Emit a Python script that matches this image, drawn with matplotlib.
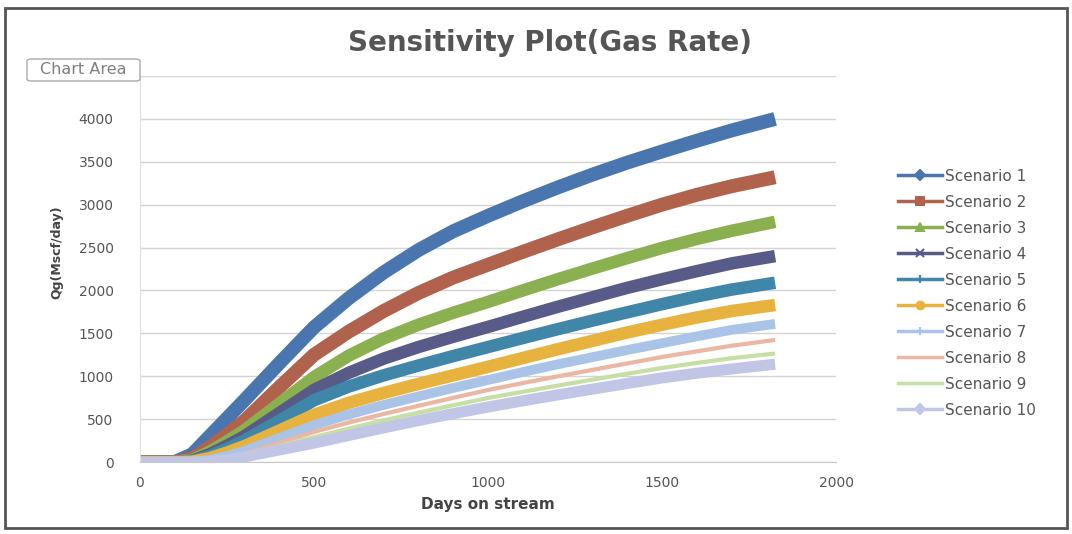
import matplotlib.pyplot as plt
from matplotlib.lines import Line2D
from matplotlib.patches import Rectangle, FancyBboxPatch

# days on stream and gas rate (Mscf/day) for each scenario
days = [0, 100, 150, 200, 250, 300, 400, 500, 600, 700, 800, 900, 1000,
        1100, 1200, 1300, 1400, 1500, 1600, 1700, 1825]

scenario_1 = [0, 0, 90, 300, 510, 720, 1150, 1570, 1910, 2210, 2470, 2690, 2870,
              3040, 3200, 3350, 3490, 3620, 3745, 3865, 4000]
scenario_2 = [0, 0, 40, 170, 320, 480, 870, 1250, 1520, 1760, 1970, 2150, 2300,
              2450, 2595, 2735, 2870, 3000, 3115, 3215, 3320]
scenario_3 = [0, 0, 25, 120, 240, 370, 680, 990, 1240, 1440, 1600, 1740, 1866,
              2000, 2130, 2255, 2377, 2495, 2600, 2695, 2800]
scenario_4 = [0, 0, 15, 90, 190, 300, 570, 840, 1040, 1205, 1340, 1460, 1575,
              1693, 1809, 1920, 2030, 2130, 2225, 2315, 2400]
scenario_5 = [0, 0, 10, 70, 155, 250, 480, 720, 880, 1010, 1125, 1235, 1340,
              1445, 1548, 1648, 1745, 1840, 1930, 2010, 2090]
scenario_6 = [0, 0, 5, 45, 110, 185, 365, 550, 690, 805, 910, 1010, 1110,
              1212, 1314, 1412, 1510, 1600, 1685, 1760, 1830]
scenario_7 = [0, 0, 0, 25, 70, 130, 280, 430, 555, 665, 765, 863, 956,
              1049, 1139, 1222, 1305, 1385, 1465, 1540, 1610]
scenario_8 = [0, 0, 0, 15, 50, 100, 225, 350, 460, 560, 655, 748, 840,
              920, 998, 1074, 1149, 1224, 1290, 1355, 1423]
scenario_9 = [0, 0, 0, 10, 40, 85, 190, 290, 390, 485, 575, 662, 746,
              819, 890, 960, 1029, 1096, 1155, 1210, 1265]
scenario_10 = [0, 0, 0, 5, 25, 60, 140, 220, 310, 398, 483, 564, 641,
               713, 782, 849, 915, 980, 1035, 1085, 1140]

series = [scenario_1, scenario_2, scenario_3, scenario_4, scenario_5,
          scenario_6, scenario_7, scenario_8, scenario_9, scenario_10]
labels = ['Scenario %d' % (i + 1) for i in range(10)]

x_ticks = [0, 500, 1000, 1500, 2000]
y_ticks = [0, 500, 1000, 1500, 2000, 2500, 3000, 3500, 4000, 4500]
y_tick_labels = ['0', '500', '1000', '1500', '2000', '2500', '3000', '3500', '4000', '']

colors = ['#4a76b0', '#b0624c', '#8bb050', '#585b87', '#3f86a8',
          '#e8b23e', '#a9c4e6', '#ebb6a2', '#c6dfa4', '#c2c6e6']
widths = [10, 10, 9, 9, 9, 9, 7, 3, 3, 8]
markers = ['D', 's', '^', 'x', '+', 'o', '+', '', '', 'D']

fig = plt.figure(figsize=(10.72, 5.34), dpi=100)
ax = fig.add_axes([140 / 1072, 72 / 534, 696 / 1072, 386 / 534])

for vals, lab, c, w in zip(series, labels, colors, widths):
    ax.plot(days, vals, color=c, lw=w, solid_capstyle='butt',
            solid_joinstyle='round', label=lab)

ax.set_xlim(0, 2000)
ax.set_ylim(0, 4500)
ax.set_xticks(x_ticks)
ax.set_yticks(y_ticks)
ax.set_yticklabels(y_tick_labels)
ax.grid(axis='y', color='#d4d4d4', lw=1)
ax.set_axisbelow(True)
ax.tick_params(length=0, labelsize=10, colors='#555555')
ax.tick_params(axis='y', pad=19)
ax.tick_params(axis='x', pad=10)
for side in ['top', 'right']:
    ax.spines[side].set_visible(False)
ax.spines['left'].set_color('#e0e0e0')
ax.spines['bottom'].set_color('#c8c8c8')

ax.set_xlabel('Days on stream', fontsize=11, fontweight='bold', color='#444444', labelpad=5)
fig.text(57 / 1072, 1 - 252 / 534, 'Qg(Mscf/day)', rotation=90, ha='center', va='center',
         fontsize=9, fontweight='bold', color='#444444')

fig.text(550 / 1072, 1 - 43 / 534, 'Sensitivity Plot(Gas Rate)', ha='center', va='center',
         fontsize=20, fontweight='bold', color='#555555')

# legend with thin handles and small markers
handles = []
for c, m in zip(colors, markers):
    handles.append(Line2D([], [], color=c, lw=2.5, marker=m if m else None,
                          markersize=5.5, markeredgewidth=1.5))
fig.legend(handles, labels, loc='upper left', bbox_to_anchor=(884 / 1072, 1 - 155 / 534),
           frameon=False, fontsize=11, handlelength=2.9, handletextpad=0.2,
           labelspacing=0.72, labelcolor='#555555')

# tooltip box over the top-left corner
tip = FancyBboxPatch((27 / 1072, 1 - 81 / 534), 113 / 1072, 22 / 534,
                     boxstyle='round,pad=0,rounding_size=0.004', transform=fig.transFigure,
                     fc='white', ec='#aaaaaa', lw=1, zorder=9)
fig.patches.append(tip)
fig.text(83 / 1072, 1 - 70 / 534, 'Chart Area', ha='center', va='center', fontsize=11.5,
         color='#808080', zorder=10)

# outer chart frame
fig.patches.append(Rectangle((5 / 1072, 6 / 534), 1062 / 1072, 520 / 534, transform=fig.transFigure,
                             fill=False, ec='#555555', lw=2))

fig.savefig('out.png', dpi=100)
